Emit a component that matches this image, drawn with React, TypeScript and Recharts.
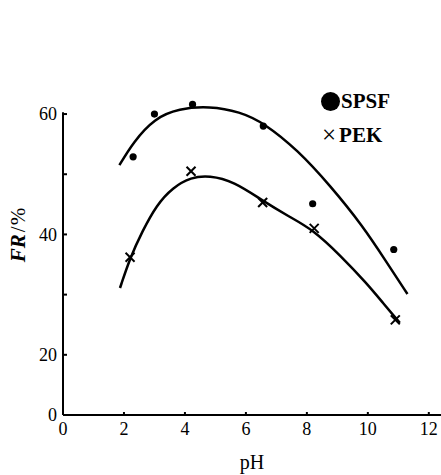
import React from "react";
import {
  ComposedChart,
  Line,
  Scatter,
  XAxis,
  YAxis,
  ReferenceLine,
} from "recharts";

// smooth fitted curves
const spsfCurveX = [1.85, 2.3, 3.0, 3.8, 4.8, 5.8, 6.6, 7.7, 8.75, 9.85, 10.6, 11.3];
const spsfCurveY = [51.5, 55.3, 59.3, 60.9, 61.3, 60.4, 58.5, 54.0, 48.2, 41.3, 35.5, 30.1];
const pekCurveX = [1.87, 2.2, 2.6, 3.07, 3.6, 4.2, 4.8, 5.6, 6.55, 7.4, 8.2, 9.1, 9.96, 10.5, 11.05];
const pekCurveY = [31.1, 36.1, 40.5, 44.9, 47.8, 49.5, 49.8, 48.8, 45.6, 43.0, 40.8, 36.5, 31.9, 28.6, 25.3];

// measured points
const spsfPointX = [2.3, 3.0, 4.25, 6.57, 8.19, 10.85];
const spsfPointY = [52.9, 60.0, 61.6, 58.0, 45.1, 37.5];
const pekPointX = [2.2, 4.2, 6.55, 8.24, 10.9];
const pekPointY = [36.2, 50.5, 45.3, 41.0, 25.8];

const xTicks = [0, 2, 4, 6, 8, 10, 12];
// broken axis: the lowest tick stands for 0
const yTicks = [10, 20, 30, 40, 50, 60];
const yTickLabels: Record<number, string> = { 10: "0", 20: "20", 30: "", 40: "40", 50: "", 60: "60" };

const zip = (xs: number[], ys: number[]) => xs.map((x, i) => ({ x, y: ys[i] }));

const spsfCurve = zip(spsfCurveX, spsfCurveY);
const pekCurve = zip(pekCurveX, pekCurveY);
const spsfPoints = zip(spsfPointX, spsfPointY);
const pekPoints = zip(pekPointX, pekPointY);

const FONT = "Liberation Serif, serif";

const Dot = (props: any) => <circle cx={props.cx} cy={props.cy} r={3.6} fill="#000" />;

const Cross = (props: any) => {
  const { cx, cy } = props;
  const s = 4.5;
  return (
    <g stroke="#000" strokeWidth={2}>
      <line x1={cx - s} y1={cy - s} x2={cx + s} y2={cy + s} />
      <line x1={cx - s} y1={cy + s} x2={cx + s} y2={cy - s} />
    </g>
  );
};

const YTitle = (props: any) => {
  const vb = props.viewBox || { x: 0, y: 0, width: 0, height: 0 };
  const cx = 18;
  const cy = vb.y + vb.height / 2 - 22;
  return (
    <text
      x={cx}
      y={cy}
      transform={`rotate(-90 ${cx} ${cy})`}
      textAnchor="middle"
      dominantBaseline="central"
      fontFamily={FONT}
      fontSize={21}
      fill="#000"
    >
      <tspan fontStyle="italic" fontWeight="bold">FR</tspan>
      <tspan dx={2}>/</tspan>
      <tspan dx={1}>%</tspan>
    </text>
  );
};

const LegendBox = () => (
  <div
    style={{
      position: "absolute",
      top: 84,
      left: 321,
      fontFamily: FONT,
      fontSize: 21,
      fontWeight: "bold",
      color: "#000",
      lineHeight: "34px",
    }}
  >
    <div style={{ display: "flex", alignItems: "center" }}>
      <span
        style={{
          display: "inline-block",
          width: 19,
          height: 19,
          borderRadius: "50%",
          background: "#000",
          marginRight: 1,
        }}
      />
      <span>SPSF</span>
    </div>
    <div style={{ display: "flex", alignItems: "center" }}>
      <span style={{ fontSize: 25, fontWeight: "normal", marginRight: 3, marginLeft: 1 }}>×</span>
      <span>PEK</span>
    </div>
  </div>
);

export default function App() {
  return (
    <div style={{ position: "absolute", left: 0, top: 0, width: 441, height: 475, background: "#fff" }}>
      <ComposedChart
        width={441}
        height={475}
        margin={{ top: 99, right: 0, bottom: 30, left: 0 }}
      >
        <XAxis
          type="number"
          dataKey="x"
          domain={[0, 12.4]}
          ticks={xTicks}
          axisLine={{ stroke: "#000", strokeWidth: 2 }}
          tickLine={{ stroke: "#000", strokeWidth: 2 }}
          tickSize={-3}
          tickMargin={10}
          height={30}
          tick={{ fill: "#000", fontSize: 18, fontFamily: FONT }}
          label={{
            value: "pH",
            position: "bottom",
            offset: 10,
            fill: "#000",
            fontSize: 20,
            fontFamily: FONT,
          }}
        />
        <YAxis
          type="number"
          dataKey="y"
          domain={[10, 62.5]}
          ticks={yTicks}
          width={63}
          axisLine={false}
          tickLine={{ stroke: "#000", strokeWidth: 2 }}
          tickSize={-4}
          tickMargin={10}
          tickFormatter={(v: number) => yTickLabels[v] ?? String(v)}
          tick={{ fill: "#000", fontSize: 18, fontFamily: FONT }}
          label={<YTitle />}
        />
        <ReferenceLine
          segment={[
            { x: 0, y: 10 },
            { x: 0, y: 60.3 },
          ]}
          stroke="#000"
          strokeWidth={2}
        />
        <Line
          data={spsfCurve}
          dataKey="y"
          type="basis"
          stroke="#000"
          strokeWidth={2.5}
          dot={false}
          activeDot={false}
          isAnimationActive={false}
        />
        <Line
          data={pekCurve}
          dataKey="y"
          type="basis"
          stroke="#000"
          strokeWidth={2.5}
          dot={false}
          activeDot={false}
          isAnimationActive={false}
        />
        <Scatter name="SPSF" data={spsfPoints} shape={<Dot />} isAnimationActive={false} />
        <Scatter name="PEK" data={pekPoints} shape={<Cross />} isAnimationActive={false} />
      </ComposedChart>
      <LegendBox />
    </div>
  );
}
